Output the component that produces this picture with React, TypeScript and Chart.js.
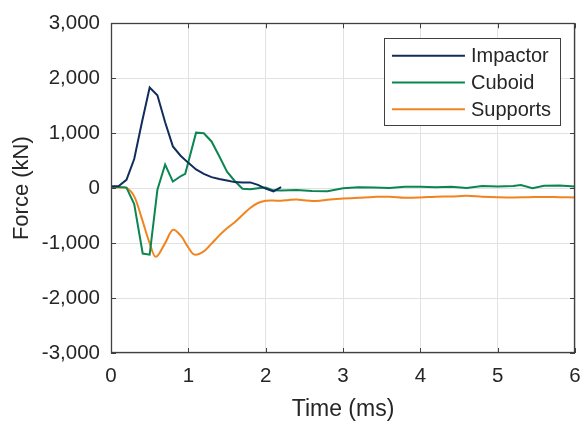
import React, { useEffect, useRef } from "react";
import { Chart, registerables } from "chart.js";

Chart.register(...registerables);

const impactorT = [0, 0.1, 0.2, 0.3, 0.4, 0.5, 0.6, 0.7, 0.8, 0.9, 1.0, 1.1, 1.2, 1.3, 1.4, 1.5, 1.6, 1.7, 1.8, 1.9, 2.0, 2.1, 2.2];
const impactorF = [30, 40, 150, 530, 1200, 1830, 1690, 1200, 760, 590, 460, 340, 260, 200, 165, 140, 110, 105, 105, 60, -10, -60, 20];

const cuboidT = [0, 0.2, 0.3, 0.41, 0.5, 0.6, 0.7, 0.8, 0.91, 0.96, 1.1, 1.2, 1.3, 1.4, 1.5, 1.6, 1.7, 1.8, 1.9, 2.0, 2.1, 2.2, 2.4, 2.6, 2.8, 3.0, 3.2, 3.4, 3.6, 3.8, 4.0, 4.2, 4.4, 4.6, 4.8, 5.0, 5.2, 5.3, 5.45, 5.6, 5.8, 6.0];
const cuboidF = [30, 10, -290, -1190, -1210, -30, 430, 120, 225, 260, 1010, 1000, 850, 580, 300, 130, -10, -20, 0, 10, -40, -45, -35, -50, -55, 0, 15, 10, 5, 25, 25, 15, 25, 5, 40, 30, 40, 55, 0, 45, 50, 30];

const supportsT = [0, 0.1, 0.2, 0.3, 0.4, 0.5, 0.58, 0.7, 0.8, 0.9, 1.0, 1.08, 1.2, 1.3, 1.4, 1.5, 1.6, 1.7, 1.8, 1.9, 2.0, 2.1, 2.2, 2.3, 2.4, 2.5, 2.6, 2.7, 2.8, 3.0, 3.2, 3.4, 3.6, 3.8, 4.0, 4.2, 4.4, 4.6, 4.8, 5.0, 5.2, 5.4, 5.6, 5.8, 6.0];
const supportsF = [10, 10, 5, -150, -560, -1000, -1250, -1000, -760, -860, -1080, -1210, -1150, -1010, -860, -730, -620, -490, -360, -270, -230, -225, -230, -215, -205, -220, -235, -230, -210, -190, -175, -160, -155, -175, -170, -155, -150, -140, -155, -165, -170, -165, -160, -165, -170];

const seriesNames = ["Impactor", "Cuboid", "Supports"];
const seriesColors = ["#112d5c", "#0b8650", "#f2841e"];

const xTicks = [0, 1, 2, 3, 4, 5, 6];
const yTicks = [-3000, -2000, -1000, 0, 1000, 2000, 3000];

const FONT = "'Liberation Sans', Arial, sans-serif";
const TEXT = "#262626";
const AXIS = "#404040";

const toPoints = (t: number[], f: number[]) => t.map((x, i) => ({ x, y: f[i] }));

const framePlugin = {
  id: "frameTicks",
  afterDatasetsDraw(chart: any) {
    const { ctx, chartArea: a, scales } = chart;
    ctx.save();
    ctx.strokeStyle = AXIS;
    ctx.lineWidth = 1;
    const tl = 5;
    ctx.beginPath();
    for (const v of xTicks) {
      const px = Math.round(scales.x.getPixelForValue(v)) + 0.5;
      ctx.moveTo(px, a.bottom);
      ctx.lineTo(px, a.bottom - tl);
      ctx.moveTo(px, a.top);
      ctx.lineTo(px, a.top + tl);
    }
    for (const v of yTicks) {
      const py = Math.round(scales.y.getPixelForValue(v)) + 0.5;
      ctx.moveTo(a.left, py);
      ctx.lineTo(a.left + tl, py);
      ctx.moveTo(a.right, py);
      ctx.lineTo(a.right - tl, py);
    }
    ctx.stroke();
    ctx.lineWidth = 1.3;
    ctx.strokeRect(Math.round(a.left) + 0.5, Math.round(a.top) + 0.5, Math.round(a.right - a.left) - 1, Math.round(a.bottom - a.top) - 1);

    // legend
    const fontSize = 20;
    ctx.font = `${fontSize}px ${FONT}`;
    const lineLen = 73;
    const padL = 8;
    const gap = 6;
    const padR = 9;
    const rowH = 26.7;
    const names = chart.data.datasets.map((d: any) => d.label);
    const maxW = Math.max(...names.map((n: string) => ctx.measureText(n).width));
    const w = padL + lineLen + gap + maxW + padR;
    const h = rowH * names.length + 7;
    const right = a.right - 15;
    const left = right - w;
    const top = a.top + 15;
    ctx.fillStyle = "#ffffff";
    ctx.fillRect(left, top, w, h);
    ctx.strokeStyle = AXIS;
    ctx.lineWidth = 1;
    ctx.strokeRect(Math.round(left) + 0.5, Math.round(top) + 0.5, Math.round(w), Math.round(h));
    ctx.textBaseline = "middle";
    ctx.textAlign = "left";
    chart.data.datasets.forEach((d: any, i: number) => {
      const cy = top + 17.5 + i * rowH;
      ctx.strokeStyle = d.borderColor;
      ctx.lineWidth = 2;
      ctx.beginPath();
      ctx.moveTo(left + padL, cy);
      ctx.lineTo(left + padL + lineLen, cy);
      ctx.stroke();
      ctx.fillStyle = TEXT;
      ctx.fillText(d.label, left + padL + lineLen + gap, cy + 1);
    });
    ctx.restore();
  },
};

export default function App() {
  const ref = useRef<HTMLCanvasElement | null>(null);
  useEffect(() => {
    document.body.style.margin = "0";
    if (!ref.current) return;
    const chart = new Chart(ref.current, {
      type: "line",
      data: {
        datasets: [
          { label: seriesNames[0], data: toPoints(impactorT, impactorF), borderColor: seriesColors[0], backgroundColor: seriesColors[0], borderWidth: 2, pointRadius: 0, tension: 0 },
          { label: seriesNames[1], data: toPoints(cuboidT, cuboidF), borderColor: seriesColors[1], backgroundColor: seriesColors[1], borderWidth: 2, pointRadius: 0, tension: 0 },
          { label: seriesNames[2], data: toPoints(supportsT, supportsF), borderColor: seriesColors[2], backgroundColor: seriesColors[2], borderWidth: 2, pointRadius: 0, tension: 0.35 },
        ],
      },
      options: {
        responsive: false,
        animation: false,
        layout: { padding: { top: 20, right: 7, left: 0, bottom: 0 } },
        plugins: { legend: { display: false }, tooltip: { enabled: false } },
        scales: {
          x: {
            type: "linear",
            min: 0,
            max: 6,
            afterBuildTicks: (s: any) => { s.ticks = xTicks.map((v) => ({ value: v })); },
            afterFit: (s: any) => { s.height = 71; s.paddingLeft = 0; s.paddingRight = 0; },
            ticks: { color: TEXT, font: { family: FONT, size: 20.5 }, padding: 11, maxRotation: 0 },
            grid: { color: "#e2e2e2", lineWidth: 1, drawTicks: false },
            border: { display: false },
            title: { display: true, text: "Time (ms)", color: TEXT, font: { family: FONT, size: 23 }, padding: { top: 0, bottom: 1 } },
          },
          y: {
            type: "linear",
            min: -3000,
            max: 3000,
            afterBuildTicks: (s: any) => { s.ticks = yTicks.map((v) => ({ value: v })); },
            afterFit: (s: any) => { s.width = 111; },
            ticks: { color: TEXT, font: { family: FONT, size: 20.5 }, padding: 11, callback: (v: any) => Number(v).toLocaleString("en-US") },
            grid: { color: "#e2e2e2", lineWidth: 1, drawTicks: false },
            border: { display: false },
            title: { display: true, text: "Force (kN)", color: TEXT, font: { family: FONT, size: 22 }, padding: { top: 9, bottom: 0 } },
          },
        },
      },
      plugins: [framePlugin],
    });
    return () => chart.destroy();
  }, []);
  return (
    <div style={{ width: 582, height: 424 }}>
      <canvas ref={ref} width={582} height={424} style={{ display: "block" }} />
    </div>
  );
}
